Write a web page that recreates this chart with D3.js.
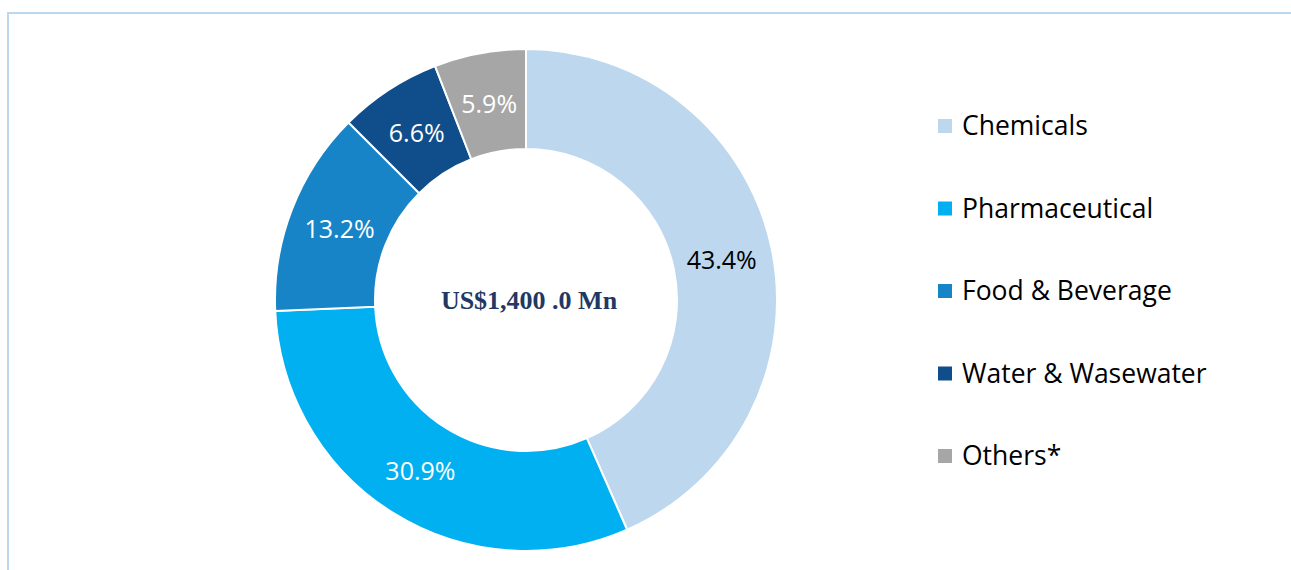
<!DOCTYPE html>
<html lang="en">
  <head>
    <meta charset="utf-8">
    <title>Market share by end use</title>
    <script src="https://d3js.org/d3.v7.min.js"></script>
    <style>
      body { margin: 0; background: #fff; }
      #chart { width: 1291px; height: 570px; }
    </style>
  </head>
  <body>
    <div id="chart"></div>
    <script>
      // segment data
      var categories = ["Chemicals", "Pharmaceutical", "Food & Beverage", "Water & Wasewater", "Others*"];
      var shares = [43.4, 30.9, 13.2, 6.6, 5.9];
      var colors = ["#BDD7EE", "#00B0F0", "#1784C7", "#104E8B", "#A6A6A6"];
      var labelColors = ["#000", "#fff", "#fff", "#fff", "#fff"];
      var centerLabel = "US$1,400 .0 Mn";

      var W = 1291, H = 570;
      var svg = d3.select("#chart").append("svg").attr("width", W).attr("height", H);

      // frame: only top and left edges show
      svg.append("line").attr("x1", 8).attr("x2", W).attr("y1", 13).attr("y2", 13)
        .attr("stroke", "#BDD7EE").attr("stroke-width", 2);
      svg.append("line").attr("x1", 8).attr("x2", 8).attr("y1", 12).attr("y2", H)
        .attr("stroke", "#BDD7EE").attr("stroke-width", 2);

      var data = categories.map(function (c, i) { return { name: c, value: shares[i], i: i }; });

      var cx = 526, cy = 300, rOut = 251, rIn = 151;
      var pie = d3.pie().sort(null).value(function (d) { return d.value; });
      var arc = d3.arc().innerRadius(rIn).outerRadius(rOut);
      var labelArc = d3.arc().innerRadius(200).outerRadius(200);

      var g = svg.append("g").attr("transform", "translate(" + cx + "," + cy + ")");
      var arcs = pie(data);

      g.selectAll("path").data(arcs).enter().append("path")
        .attr("d", arc)
        .attr("fill", function (d) { return colors[d.data.i]; })
        .attr("stroke", "#fff").attr("stroke-width", 2);

      g.selectAll("text.lbl").data(arcs).enter().append("text")
        .attr("class", "lbl")
        .attr("transform", function (d) { return "translate(" + labelArc.centroid(d) + ")"; })
        .attr("text-anchor", "middle").attr("dominant-baseline", "central")
        .style("font-family", "'Open Sans', 'Noto Sans', sans-serif")
        .style("font-size", "25px")
        .attr("fill", function (d) { return labelColors[d.data.i]; })
        .text(function (d) { return d.data.value.toFixed(1) + "%"; });

      g.append("text")
        .attr("x", 3).attr("y", 0)
        .attr("text-anchor", "middle").attr("dominant-baseline", "central")
        .style("font-family", "'Liberation Serif', 'Times New Roman', serif")
        .style("font-weight", "bold").style("font-size", "26px")
        .attr("fill", "#1F3864")
        .text(centerLabel);

      // legend
      var leg = svg.append("g").attr("transform", "translate(938,126)");
      var rows = leg.selectAll("g").data(data).enter().append("g")
        .attr("transform", function (d, i) { return "translate(0," + (i * 82.5) + ")"; });
      rows.append("rect").attr("x", 0).attr("y", -7).attr("width", 14).attr("height", 14)
        .attr("fill", function (d) { return colors[d.i]; });
      rows.append("text").attr("x", 24).attr("y", -1)
        .attr("dominant-baseline", "central")
        .style("font-family", "'Open Sans', 'Noto Sans', sans-serif")
        .style("font-size", "26.5px").attr("fill", "#000")
        .text(function (d) { return d.name; });
    </script>
  </body>
</html>
